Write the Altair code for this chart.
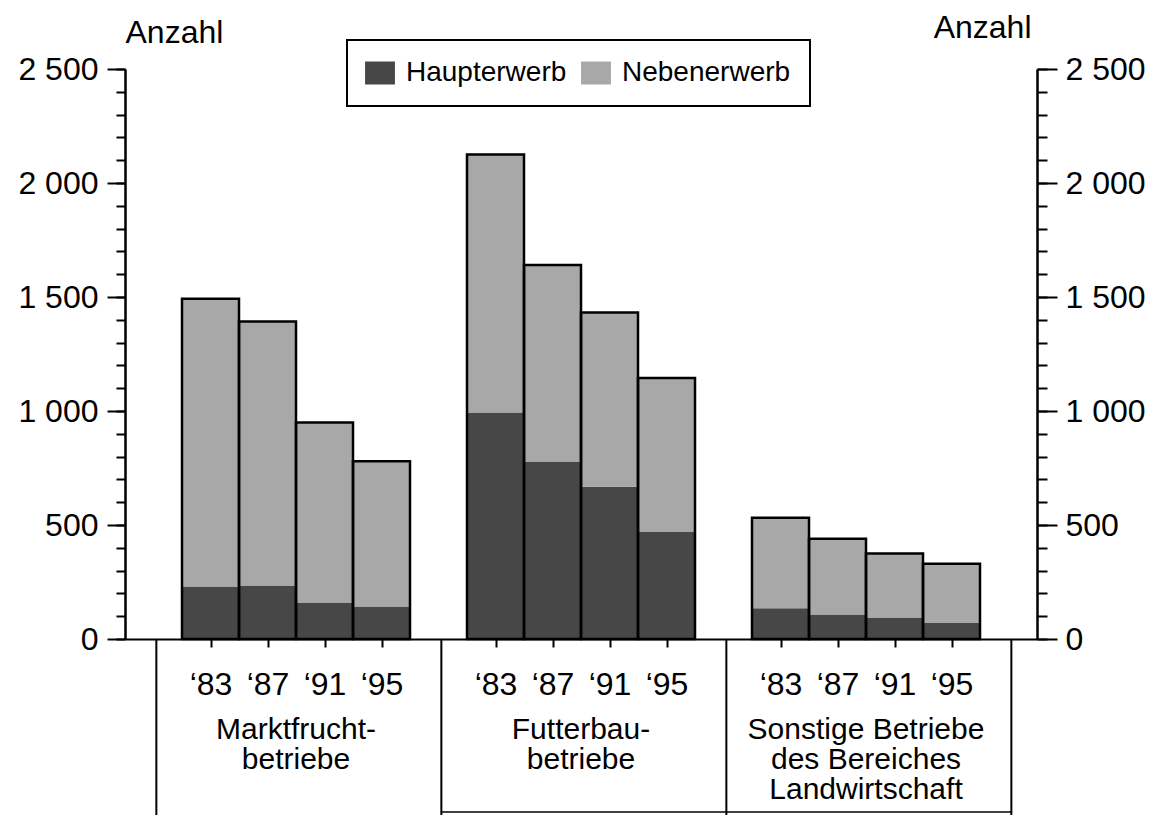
import altair as alt
import pandas as pd

# ---- data ----
group_labels = ["Marktfrucht-\nbetriebe", "Futterbau-\nbetriebe",
                "Sonstige Betriebe\ndes Bereiches\nLandwirtschaft"]
year_labels = ["\u201883", "\u201887", "\u201891", "\u201895"]
series_names = ["Haupterwerb", "Nebenerwerb"]

haupt_markt = [230, 235, 160, 143]
neben_markt = [1262, 1157, 790, 637]
haupt_futter = [993, 778, 668, 471]
neben_futter = [1132, 862, 764, 674]
haupt_sonst = [135, 108, 94, 70]
neben_sonst = [397, 332, 281, 260]

y_major = [0, 500, 1000, 1500, 2000, 2500]
y_minor = list(range(0, 2501, 100))

FONT = "Liberation Sans"
DARK = "#474747"
LIGHT = "#a8a8a8"

haupt_all = [haupt_markt, haupt_futter, haupt_sonst]
neben_all = [neben_markt, neben_futter, neben_sonst]

# slot layout: 1 empty slot, 4 bars, 1 empty, 4 bars, 1 empty, 4 bars, 1 empty
seg_rows, tot_rows = [], []
for g in range(3):
    for i, yr in enumerate(year_labels):
        s = 1 + 5 * g + i
        h = haupt_all[g][i]
        n = neben_all[g][i]
        seg_rows.append(dict(x0=s, x1=s + 1, y0=0, y1=h, Art=series_names[0], Jahr=yr))
        seg_rows.append(dict(x0=s, x1=s + 1, y0=h, y1=h + n, Art=series_names[1], Jahr=yr))
        tot_rows.append(dict(x0=s, x1=s + 1, y0=0, y1=h + n))
seg = pd.DataFrame(seg_rows)
tot = pd.DataFrame(tot_rows)
grp = pd.DataFrame(dict(c=[3 + 5 * g for g in range(3)], label=group_labels))
bnd = pd.DataFrame(dict(b=[0.55 + 5 * k for k in range(4)]))
bottom = pd.DataFrame(dict(b0=[5.55], b1=[15.55]))

centers = [r["x0"] + 0.5 for r in tot_rows]

xscale = alt.Scale(domain=[0, 16], nice=False, zero=False)
yscale = alt.Scale(domain=[0, 2500], nice=False, zero=True)

ylab = "replace(format(datum.value, ','), ',', ' ')"

common_ax = dict(domainColor="black", domainWidth=2, tickColor="black", tickWidth=2,
                 grid=False, labelColor="black", labelFont=FONT, titleFont=FONT,
                 titleColor="black")

left_major = alt.Axis(orient="left", values=y_major, tickSize=18, labelExpr=ylab,
                      labelFontSize=32, labelPadding=9, labelFlush=False,
                      title="Anzahl", titleAngle=0, titleX=0, titleY=-27,
                      titleAlign="left", titleBaseline="alphabetic",
                      titleFontSize=32, titleFontWeight="normal", **common_ax)
left_minor = alt.Axis(orient="left", values=y_minor, tickSize=9, labels=False,
                      title=None, **common_ax)
right_major = alt.Axis(orient="right", values=y_major, tickSize=20, labelExpr=ylab,
                       labelFontSize=32, labelPadding=8, labelFlush=False,
                       title="Anzahl", titleAngle=0, titleX=-6, titleY=-32,
                       titleAlign="right", titleBaseline="alphabetic",
                       titleFontSize=32, titleFontWeight="normal", **common_ax)
right_minor = alt.Axis(orient="right", values=y_minor, tickSize=10, labels=False,
                       title=None, **common_ax)

xlabexpr = "['\u201883','\u201887','\u201891','\u201895'][(floor(datum.value) - 1) % 5]"
x_axis = alt.Axis(orient="bottom", values=centers, labelExpr=xlabexpr, tickSize=8,
                  labelPadding=22, labelFontSize=32, labelFlush=False, labelOverlap=False,
                  labelBound=False, title=None, **common_ax)

legend = alt.Legend(orient="none", legendX=222, legendY=-29, direction="horizontal",
                    title=None, strokeColor="black", padding=19, labelFontSize=28,
                    labelFont=FONT, labelColor="black", labelLimit=400,
                    symbolType="M-1.3,-1L1.3,-1L1.3,1L-1.3,1Z", symbolSize=529,
                    symbolStrokeWidth=0, labelOffset=12, columnPadding=14)

bars = alt.Chart(seg).mark_rect().encode(
    x=alt.X("x0:Q", scale=xscale, axis=x_axis),
    x2="x1:Q",
    y=alt.Y("y0:Q", scale=yscale, axis=left_major),
    y2="y1:Q",
    color=alt.Color("Art:N", scale=alt.Scale(domain=series_names, range=[DARK, LIGHT]),
                    legend=legend),
)

outline = alt.Chart(tot).mark_rect(fillOpacity=0, stroke="black", strokeWidth=2.5).encode(
    x=alt.X("x0:Q", scale=xscale, axis=None),
    x2="x1:Q",
    y=alt.Y("y0:Q", scale=yscale, axis=left_minor),
    y2="y1:Q",
)

ghost_r1 = alt.Chart(tot).mark_rect(opacity=0).encode(
    x=alt.X("x0:Q", scale=xscale, axis=None), x2="x1:Q",
    y=alt.Y("y0:Q", scale=yscale, axis=right_major), y2="y1:Q",
)
ghost_r2 = alt.Chart(tot).mark_rect(opacity=0).encode(
    x=alt.X("x0:Q", scale=xscale, axis=None), x2="x1:Q",
    y=alt.Y("y0:Q", scale=yscale, axis=right_minor), y2="y1:Q",
)

group_text = alt.Chart(grp).mark_text(align="center", baseline="middle", fontSize=30,
                                      lineHeight=30, lineBreak="\n", font=FONT,
                                      color="black").encode(
    x=alt.X("c:Q", scale=xscale, axis=None),
    y=alt.value(661),
    text="label:N",
)

box_v = alt.Chart(bnd).mark_rule(color="black", strokeWidth=2).encode(
    x=alt.X("b:Q", scale=xscale, axis=None),
    y=alt.value(570),
    y2=alt.value(770),
)
box_h = alt.Chart(bottom).mark_rule(color="black", strokeWidth=1.5).encode(
    x=alt.X("b0:Q", scale=xscale, axis=None),
    x2="b1:Q",
    y=alt.value(743),
)

chart = alt.layer(bars, outline, ghost_r1, ghost_r2, group_text, box_v, box_h).resolve_scale(
    x="shared", y="shared"
).resolve_axis(x="independent", y="independent").properties(
    width=912, height=570,
    autosize=alt.AutoSizeParams(type="none"),
    padding={"left": 117, "top": 61, "right": 115, "bottom": 176},
    background="white",
).configure(font=FONT).configure_view(stroke="transparent", strokeWidth=0).configure_legend(
    strokeWidth=2
)

chart.save("out.html", embed_options={"renderer": "svg", "actions": False})
